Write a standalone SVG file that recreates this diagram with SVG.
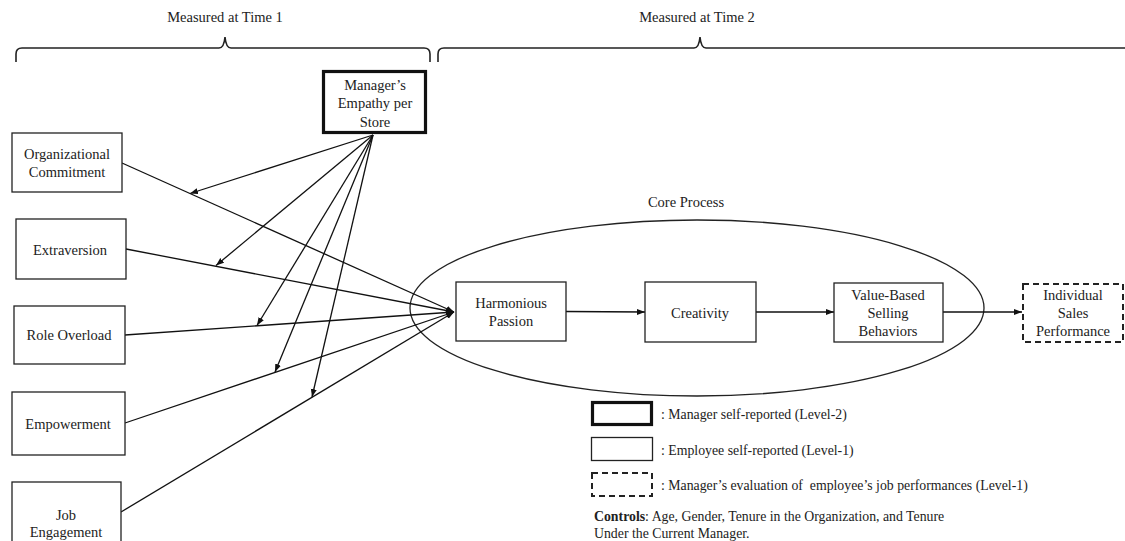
<svg xmlns="http://www.w3.org/2000/svg" width="1125" height="541" viewBox="0 0 1125 541">
  <style>
    text { font-family: "Liberation Serif", "Times New Roman", serif; fill: #222; }
    .lbl { font-size: 14.5px; text-anchor: middle; }
    .leg { font-size: 13.8px; }
    .box { fill: #fff; stroke: #222; stroke-width: 1.3; }
    .mgr { fill: #fff; stroke: #111; stroke-width: 3.2; }
    .dash { fill: #fff; stroke: #222; stroke-width: 2; stroke-dasharray: 6 4; }
    .brace { fill: none; stroke: #222; stroke-width: 1.6; }
    .edge { fill: none; stroke: #111; stroke-width: 1.3; marker-end: url(#arrow); }
  </style>
  <defs>
    <marker id="arrow" markerUnits="userSpaceOnUse" markerWidth="9" markerHeight="7" refX="8" refY="3.5" orient="auto">
      <path d="M0,0.5 L8,3.5 L0,6.5 z" fill="#111"/>
    </marker>
  </defs>
  <rect width="1125" height="541" fill="#fff"/>

  <!-- time brackets -->
  <g id="time1">
    <text class="lbl" x="225" y="22">Measured at Time 1</text>
    <path class="brace" d="M16,62 V54 Q16,48 22,48 H219 Q224,48 225,37 Q226,48 231,48 H424 Q430,48 430,54 V62"/>
  </g>
  <g id="time2">
    <text class="lbl" x="697" y="22">Measured at Time 2</text>
    <path class="brace" d="M438,62 V54 Q438,48 444,48 H694 Q699,48 700,37 Q701,48 706,48 H1130"/>
  </g>

  <!-- core process region -->
  <g id="core-process">
    <ellipse cx="697" cy="308" rx="287" ry="88" fill="none" stroke="#222" stroke-width="1.3"/>
    <text class="lbl" x="686" y="207">Core Process</text>
  </g>

  <!-- connectors -->
  <g id="connectors">
    <line class="edge" x1="122" y1="163" x2="454" y2="312"/>
    <line class="edge" x1="126" y1="249" x2="454" y2="312"/>
    <line class="edge" x1="125" y1="335" x2="454" y2="312"/>
    <line class="edge" x1="125" y1="423" x2="454" y2="312"/>
    <line class="edge" x1="121" y1="512" x2="454" y2="312"/>
    <line class="edge" x1="373" y1="135" x2="190" y2="193.5"/>
    <line class="edge" x1="373" y1="135" x2="216" y2="265.5"/>
    <line class="edge" x1="373" y1="135" x2="257" y2="325.5"/>
    <line class="edge" x1="373" y1="135" x2="275" y2="372"/>
    <line class="edge" x1="373" y1="135" x2="312" y2="397"/>
    <line class="edge" x1="566" y1="311.5" x2="645" y2="312"/>
    <line class="edge" x1="756" y1="312" x2="834" y2="312"/>
    <line class="edge" x1="943" y1="312" x2="1022" y2="312"/>
  </g>

  <g id="manager-empathy">
    <rect class="mgr" x="323.5" y="71.5" width="102" height="61"/>
    <text class="lbl" x="375" y="90">Manager’s</text>
    <text class="lbl" x="375" y="108">Empathy per</text>
    <text class="lbl" x="375" y="127">Store</text>
  </g>
  <g id="organizational-commitment">
    <rect class="box" x="12" y="133" width="110" height="59"/>
    <text class="lbl" x="67" y="159">Organizational</text>
    <text class="lbl" x="67" y="177">Commitment</text>
  </g>
  <g id="extraversion">
    <rect class="box" x="16" y="219" width="110" height="60"/>
    <text class="lbl" x="70" y="255">Extraversion</text>
  </g>
  <g id="role-overload">
    <rect class="box" x="14" y="306" width="111" height="58"/>
    <text class="lbl" x="69" y="340">Role Overload</text>
  </g>
  <g id="empowerment">
    <rect class="box" x="12" y="392" width="113" height="63"/>
    <text class="lbl" x="68" y="429">Empowerment</text>
  </g>
  <g id="job-engagement">
    <rect class="box" x="12" y="482" width="109" height="70"/>
    <text class="lbl" x="66" y="520">Job</text>
    <text class="lbl" x="66" y="537">Engagement</text>
  </g>
  <g id="harmonious-passion">
    <rect class="box" x="456" y="282" width="110" height="59"/>
    <text class="lbl" x="511" y="308">Harmonious</text>
    <text class="lbl" x="511" y="326">Passion</text>
  </g>
  <g id="creativity">
    <rect class="box" x="645" y="282" width="111" height="60"/>
    <text class="lbl" x="700" y="318">Creativity</text>
  </g>
  <g id="value-based-selling">
    <rect class="box" x="834" y="283" width="109" height="59"/>
    <text class="lbl" x="888" y="300">Value-Based</text>
    <text class="lbl" x="888" y="318">Selling</text>
    <text class="lbl" x="888" y="336">Behaviors</text>
  </g>
  <g id="individual-sales">
    <rect class="dash" x="1023" y="284" width="100" height="58"/>
    <text class="lbl" x="1073" y="300">Individual</text>
    <text class="lbl" x="1073" y="318">Sales</text>
    <text class="lbl" x="1073" y="336">Performance</text>
  </g>

  <!-- legend -->
  <g id="legend">
    <rect class="mgr" x="592.5" y="402.5" width="59" height="22"/>
    <text class="leg" x="661" y="419">: Manager self-reported (Level-2)</text>
    <rect class="box" x="591.5" y="437.5" width="61" height="23"/>
    <text class="leg" x="661" y="455">: Employee self-reported (Level-1)</text>
    <rect class="dash" x="592" y="473" width="60" height="23"/>
    <text class="leg" x="661" y="490">: Manager’s evaluation of&#160; employee’s job performances (Level-1)</text>
    <text class="leg" x="594" y="521"><tspan font-weight="bold">Controls</tspan>: Age, Gender, Tenure in the Organization, and Tenure</text>
    <text class="leg" x="594" y="538">Under the Current Manager.</text>
  </g>
</svg>
